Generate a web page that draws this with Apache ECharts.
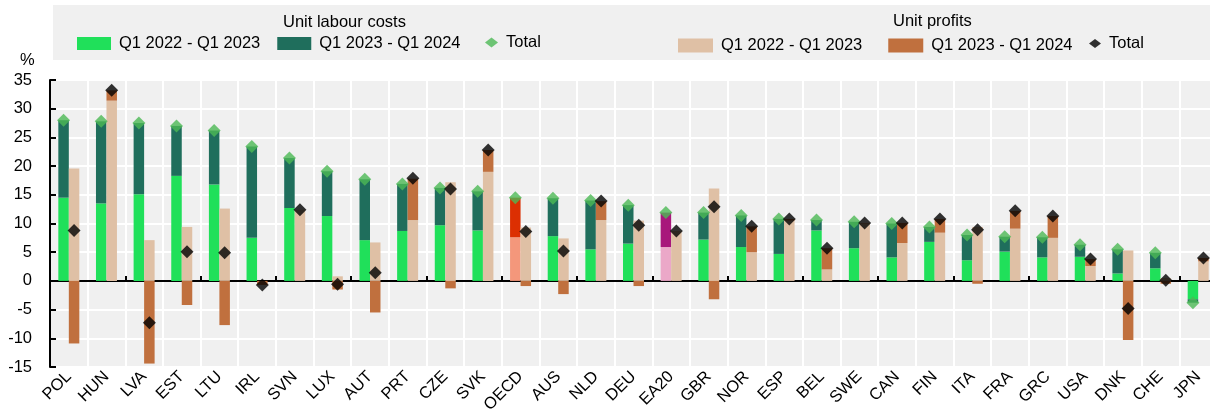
<!DOCTYPE html>
<html>
<head>
<meta charset="utf-8">
<script src="https://cdn.jsdelivr.net/npm/echarts@6/dist/echarts.min.js"></script>
<style>
  html, body { margin: 0; padding: 0; background: #fff; }
  #chart { width: 1210px; height: 412px; }
</style>
</head>
<body>
<div id="chart"></div>
<script>
// categories, in the order of the reference
const countries = ['POL', 'HUN', 'LVA', 'EST', 'LTU', 'IRL', 'SVN', 'LUX', 'AUT', 'PRT', 'CZE', 'SVK', 'OECD', 'AUS', 'NLD', 'DEU', 'EA20', 'GBR', 'NOR', 'ESP', 'BEL', 'SWE', 'CAN', 'FIN', 'ITA', 'FRA', 'GRC', 'USA', 'DNK', 'CHE', 'JPN'];

// unit labour costs, % change
const ulc2223 = [14.5, 13.5, 15.1, 18.3, 16.8, 7.5, 12.7, 11.3, 7.1, 8.7, 9.7, 8.8, 7.6, 7.8, 5.5, 6.5, 5.9, 7.2, 5.9, 4.7, 8.8, 5.7, 4.1, 6.8, 3.6, 5.1, 4.1, 4.2, 1.3, 2.2, -3.2];
const ulc2324 = [13.5, 14.3, 12.4, 8.7, 9.4, 15.9, 8.7, 7.8, 10.6, 8.2, 6.5, 6.8, 6.9, 6.6, 8.5, 6.7, 6.0, 4.7, 5.5, 6.1, 1.8, 4.6, 5.9, 2.6, 4.4, 2.6, 3.5, 2.1, 4.2, 2.7, -0.6];
const ulcTotal = [28.0, 27.8, 27.5, 27.0, 26.2, 23.4, 21.4, 19.1, 17.7, 16.9, 16.2, 15.6, 14.5, 14.4, 14.0, 13.2, 11.9, 11.9, 11.4, 10.8, 10.6, 10.3, 10.0, 9.4, 8.0, 7.7, 7.6, 6.3, 5.5, 4.9, -3.8];

// unit profits, % change
const prof2223 = [19.6, 31.4, 7.1, 9.4, 12.6, 0, 12.4, 0.8, 6.7, 10.6, 17.2, 19.0, 9.3, 7.4, 10.6, 10.5, 8.7, 16.1, 5.0, 10.5, 2.0, 10.0, 6.6, 8.4, 9.4, 9.1, 7.5, 2.6, 5.3, 0.5, 3.4];
const prof2324 = [-10.9, 1.8, -14.4, -4.2, -7.7, -0.7, 0, -1.5, -5.5, 7.2, -1.3, 3.8, -0.9, -2.3, 3.3, -0.9, 0, -3.2, 4.5, 0.3, 3.7, 0.1, 3.5, 2.4, -0.5, 3.1, 3.8, 1.2, -10.3, -0.5, 0.6];
const profTotal = [8.8, 33.2, -7.3, 5.1, 4.9, -0.7, 12.4, -0.6, 1.4, 17.9, 16.0, 22.8, 8.6, 5.2, 13.9, 9.7, 8.7, 12.9, 9.5, 10.8, 5.7, 10.1, 10.1, 10.8, 8.9, 12.2, 11.3, 3.8, -4.8, 0.1, 4.0];

const yTicks = [-15, -10, -5, 0, 5, 10, 15, 20, 25, 30, 35];

const FONT = "'Liberation Sans', Arial, sans-serif";
const FS = 16.5;
const C = {
    ulc1: '#20e05a', ulc2: '#1f6e5c', ulcTot: '#4cb955',
    pr1: '#dfc0a5', pr2: '#c0703e', prTot: '#000000',
    oecd1: '#f4977b', oecd2: '#dc2f02', ea1: '#eba8c8', ea2: '#a8177b'
};
const legendText = {
    ulc1: 'Q1 2022 - Q1 2023', ulc2: 'Q1 2023 - Q1 2024', ulcTot: 'Total',
    pr1: 'Q1 2022 - Q1 2023', pr2: 'Q1 2023 - Q1 2024', prTot: 'Total'
};

// OECD and EA20 get their own colours in the ULC stack
const highlight = (arr, oecd, ea) => arr.map((v, i) => {
    if (countries[i] === 'OECD') return { value: v, itemStyle: { color: oecd } };
    if (countries[i] === 'EA20') return { value: v, itemStyle: { color: ea } };
    return v;
});

const BAR_W = 10.5;
const textStyle = { fontFamily: FONT, fontSize: FS, color: '#000' };

const legendBase = {
    orient: 'horizontal',
    padding: 0,
    itemGap: 17,
    itemWidth: 34,
    itemHeight: 13,
    icon: 'rect',
    selectedMode: false,
    formatter: name => legendText[name],
    textStyle: Object.assign({ padding: [0, 0, 0, 3] }, textStyle)
};

const option = {
    animation: false,
    textStyle: { fontFamily: FONT },
    graphic: [
        { type: 'rect', left: 53, top: 5, shape: { width: 1160, height: 55 }, style: { fill: '#f0f0f0' }, z: -1 },
        { type: 'text', left: 20, top: 52, style: { text: '%', font: FS + 'px ' + FONT, fill: '#000' } }
    ],
    title: [
        { text: 'Unit labour costs', left: 283, top: 14, padding: 0, textStyle: Object.assign({ fontWeight: 'normal' }, textStyle) },
        { text: 'Unit profits', left: 893, top: 13, padding: 0, textStyle: Object.assign({ fontWeight: 'normal' }, textStyle) }
    ],
    legend: [
        Object.assign({}, legendBase, { left: 77, top: 35, data: ['ulc1', 'ulc2'] }),
        Object.assign({}, legendBase, { left: 485, top: 34, itemWidth: 13, itemHeight: 10, icon: 'diamond', data: ['ulcTot'] }),
        Object.assign({}, legendBase, { left: 678, top: 37, itemWidth: 35, itemHeight: 14, itemGap: 26, data: ['pr1', 'pr2'] }),
        Object.assign({}, legendBase, { left: 1089, top: 35, itemWidth: 12, itemHeight: 9, icon: 'diamond', data: ['prTot'] })
    ],
    grid: {
        left: 50,
        right: -7,
        top: 80,
        bottom: 45,
        outerBoundsMode: 'none',
        show: true,
        backgroundColor: '#f0f0f0',
        borderWidth: 0
    },
    xAxis: [
        {
            // labels along the bottom, white gridlines between countries
            type: 'category',
            data: countries,
            position: 'bottom',
            boundaryGap: true,
            axisLine: { show: false, onZero: false },
            axisTick: { show: false },
            axisLabel: {
                interval: 0,
                rotate: 45,
                margin: 7,
                fontSize: FS,
                fontFamily: FONT,
                color: '#000'
            },
            splitLine: { show: true, lineStyle: { color: '#ffffff', width: 2 } }
        },
        {
            // the black zero line with its small upward ticks
            type: 'category',
            data: countries,
            position: 'top',
            boundaryGap: true,
            axisLine: { show: true, onZero: true, lineStyle: { color: '#000', width: 2 } },
            axisTick: { show: true, inside: false, length: 5, lineStyle: { color: '#000', width: 2 } },
            axisLabel: { show: false },
            splitLine: { show: false }
        }
    ],
    yAxis: {
        type: 'value',
        min: yTicks[0],
        max: yTicks[yTicks.length - 1],
        interval: 5,
        axisLine: { show: true, lineStyle: { color: '#000', width: 2 } },
        axisTick: { show: true, inside: true, length: 6, lineStyle: { color: '#000', width: 2 } },
        axisLabel: { margin: 18, fontSize: FS, fontFamily: FONT, color: '#000' },
        splitLine: { show: true, lineStyle: { color: '#ffffff', width: 2 } }
    },
    series: [
        {
            name: 'ulc1', type: 'bar', stack: 'ulc', barWidth: BAR_W, barGap: '0%',
            itemStyle: { color: C.ulc1 },
            data: highlight(ulc2223, C.oecd1, C.ea1)
        },
        {
            name: 'ulc2', type: 'bar', stack: 'ulc', barWidth: BAR_W, barGap: '0%',
            itemStyle: { color: C.ulc2 },
            data: highlight(ulc2324, C.oecd2, C.ea2)
        },
        {
            name: 'pr1', type: 'bar', stack: 'prof', barWidth: BAR_W, barGap: '0%',
            itemStyle: { color: C.pr1 },
            data: prof2223
        },
        {
            name: 'pr2', type: 'bar', stack: 'prof', barWidth: BAR_W, barGap: '0%',
            itemStyle: { color: C.pr2 },
            data: prof2324
        },
        {
            name: 'ulcTot', type: 'scatter', symbol: 'diamond', symbolSize: [13, 13],
            symbolOffset: [-BAR_W / 2, 0], z: 5,
            itemStyle: { color: C.ulcTot },
            data: ulcTotal
        },
        {
            name: 'prTot', type: 'scatter', symbol: 'diamond', symbolSize: [13, 13],
            symbolOffset: [BAR_W / 2, 0], z: 5,
            itemStyle: { color: C.prTot },
            data: profTotal
        }
    ]
};

const myChart = echarts.init(document.getElementById('chart'), null, { renderer: 'canvas' });
myChart.setOption(option);
</script>
</body>
</html>
